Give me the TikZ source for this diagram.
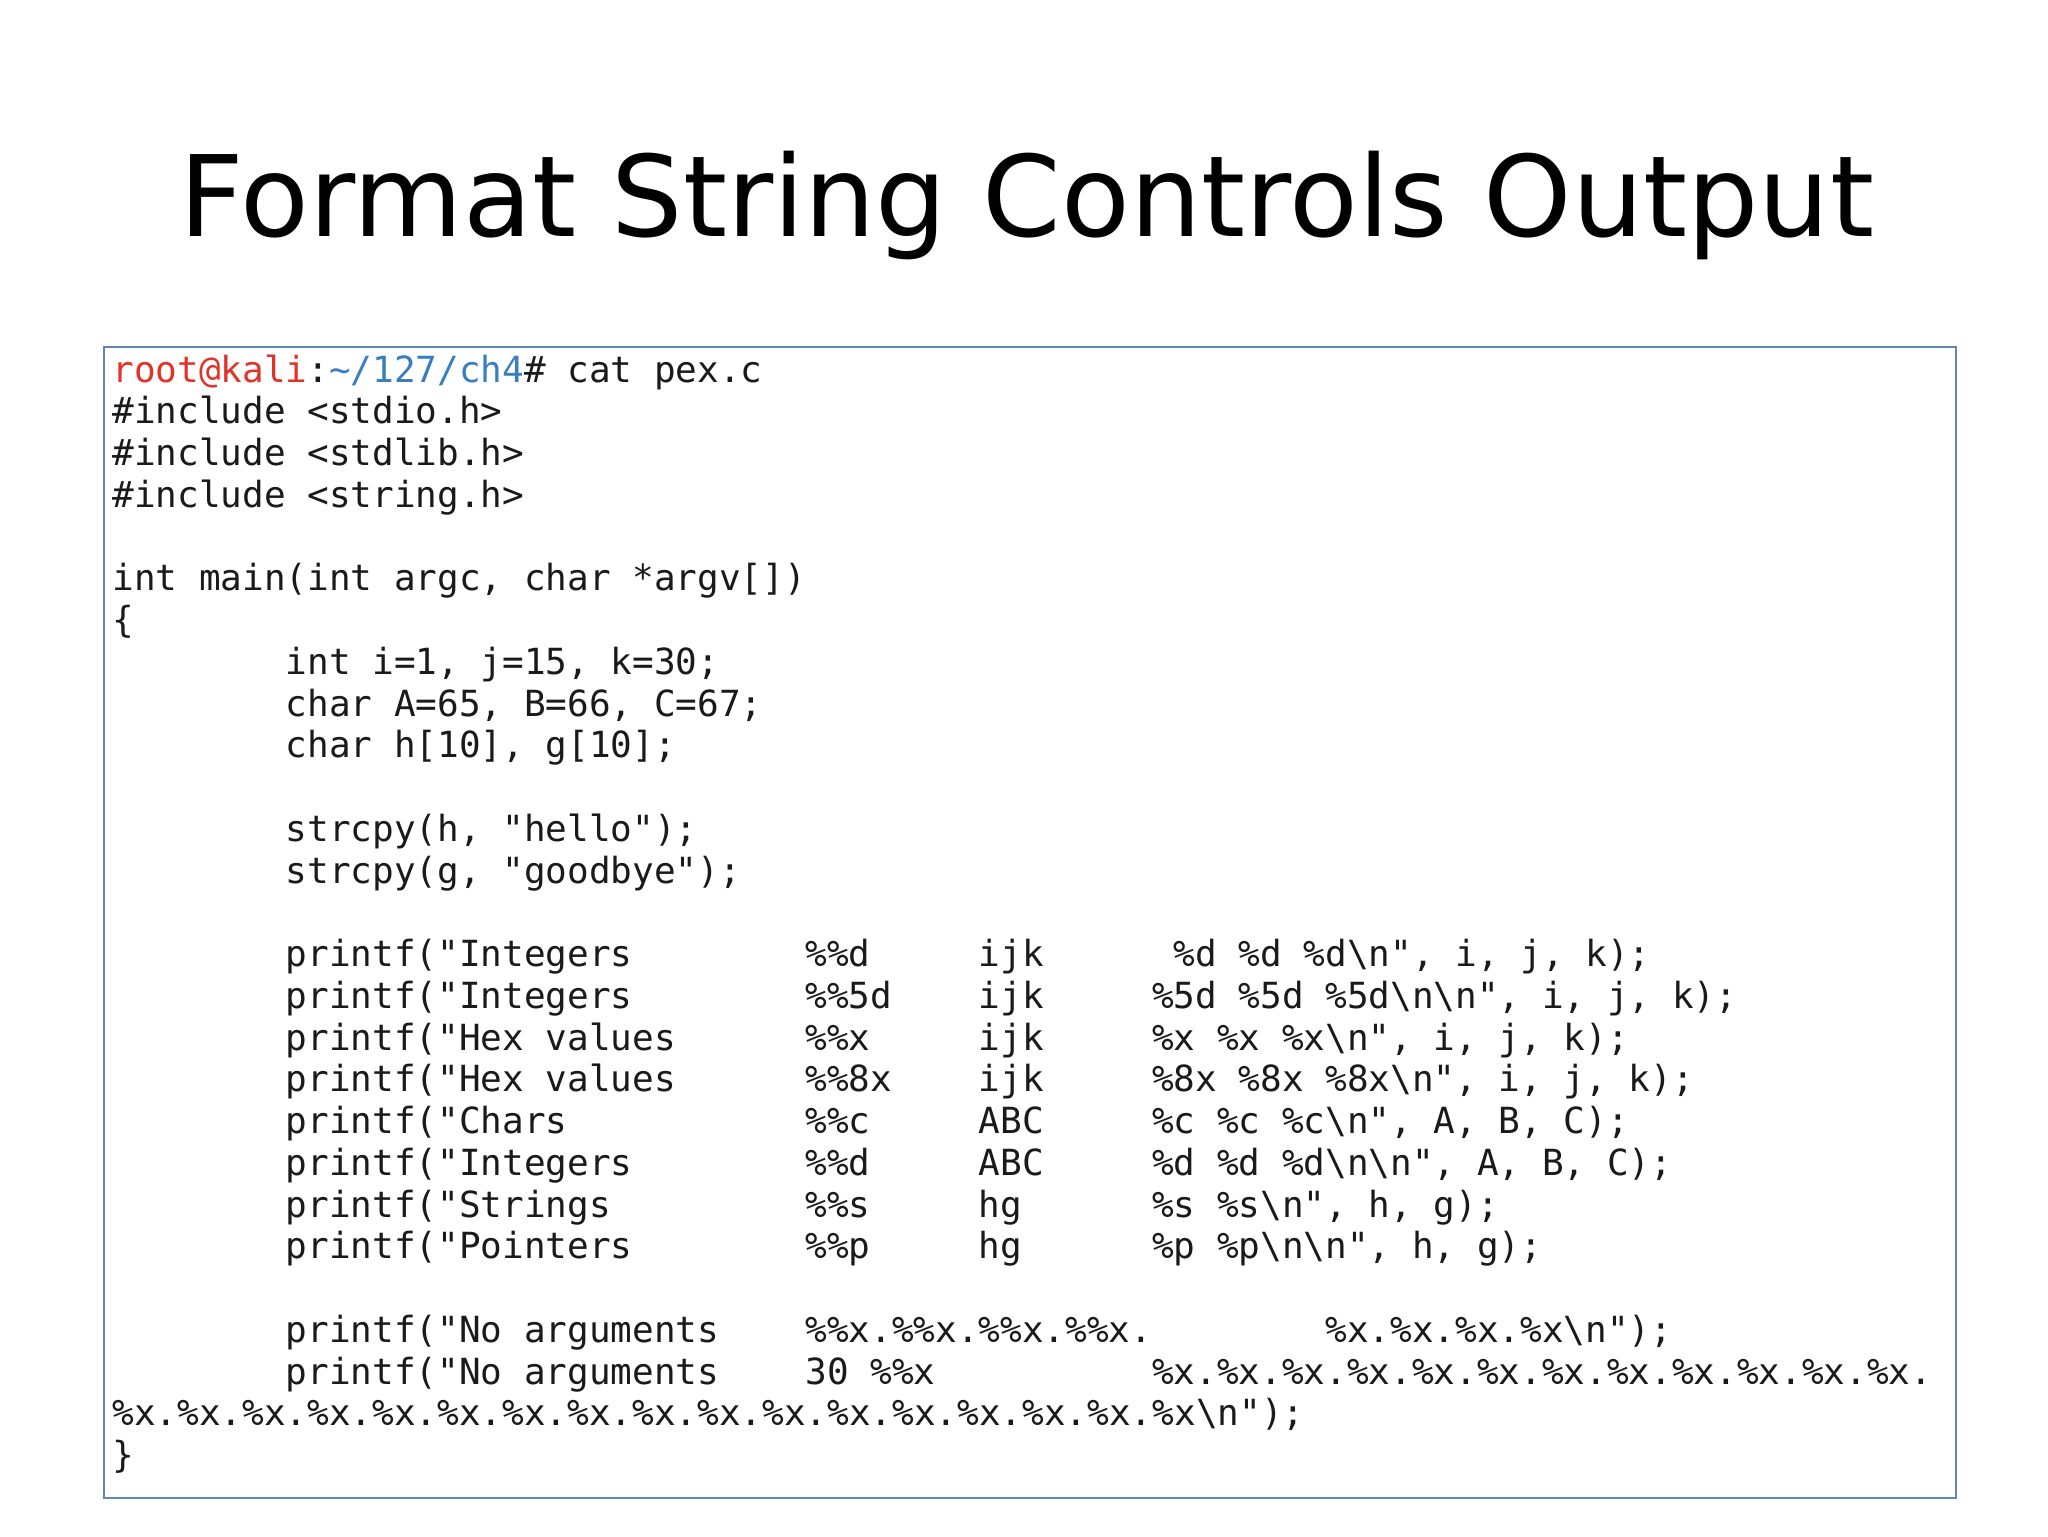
\documentclass[tikz,border=0pt]{standalone}
\usepackage{fontspec}
\newfontfamily\titlefont{DejaVu Sans}
\newfontfamily\codefont{DejaVu Sans Mono}
\definecolor{rootred}{HTML}{E0342A}
\definecolor{pathblue}{HTML}{3A7DC0}
\definecolor{boxblue}{HTML}{5E88B6}
\definecolor{codegray}{HTML}{1A1A1A}
\newcommand\bs{\textbackslash{}}
\newcommand\codeln[4]{\node[code] (#1) at ({112+#3*21.66},{382+#2*41.75}) {#4};}
\begin{document}
\begin{tikzpicture}[x=0.5pt,y=-0.5pt,
  code/.style={anchor=base west,inner sep=0pt,font=\codefont\fontsize{18pt}{21pt}\selectfont,text=codegray}]
\useasboundingbox[fill=white] (0,0) rectangle (2048,1536);
\node[anchor=base,inner sep=0pt] (title) at (1027,236)
  {\resizebox{847pt}{!}{\titlefont\fontsize{63pt}{70pt}\selectfont Format String Controls Output}};
\draw[boxblue,line width=1.2pt,fill=white] (104,347) rectangle (1956,1498);
\node[inner sep=0pt] (box) at (1030,922) {};
\codeln{l0}{0}{0}{{\color{rootred}root@kali}:{\color{pathblue}\textasciitilde/127/ch4}\# cat pex.c}
\codeln{l1}{1}{0}{\#include <stdio.h>}
\codeln{l2}{2}{0}{\#include <stdlib.h>}
\codeln{l3}{3}{0}{\#include <string.h>}
\codeln{l5}{5}{0}{int main(int argc, char *argv[])}
\codeln{l6}{6}{0}{\{}
\codeln{l7}{7}{8}{int i=1, j=15, k=30;}
\codeln{l8}{8}{8}{char A=65, B=66, C=67;}
\codeln{l9}{9}{8}{char h[10], g[10];}
\codeln{l11}{11}{8}{strcpy(h, "hello");}
\codeln{l12}{12}{8}{strcpy(g, "goodbye");}
%
\codeln{p1a}{14}{8}{printf("Integers}
\codeln{p1b}{14}{32}{\%\%d}
\codeln{p1c}{14}{40}{ijk}
\codeln{p1d}{14}{49}{\%d \%d \%d\bs n", i, j, k);}
\codeln{p2a}{15}{8}{printf("Integers}
\codeln{p2b}{15}{32}{\%\%5d}
\codeln{p2c}{15}{40}{ijk}
\codeln{p2d}{15}{48}{\%5d \%5d \%5d\bs n\bs n", i, j, k);}
\codeln{p3a}{16}{8}{printf("Hex values}
\codeln{p3b}{16}{32}{\%\%x}
\codeln{p3c}{16}{40}{ijk}
\codeln{p3d}{16}{48}{\%x \%x \%x\bs n", i, j, k);}
\codeln{p4a}{17}{8}{printf("Hex values}
\codeln{p4b}{17}{32}{\%\%8x}
\codeln{p4c}{17}{40}{ijk}
\codeln{p4d}{17}{48}{\%8x \%8x \%8x\bs n", i, j, k);}
\codeln{p5a}{18}{8}{printf("Chars}
\codeln{p5b}{18}{32}{\%\%c}
\codeln{p5c}{18}{40}{ABC}
\codeln{p5d}{18}{48}{\%c \%c \%c\bs n", A, B, C);}
\codeln{p6a}{19}{8}{printf("Integers}
\codeln{p6b}{19}{32}{\%\%d}
\codeln{p6c}{19}{40}{ABC}
\codeln{p6d}{19}{48}{\%d \%d \%d\bs n\bs n", A, B, C);}
\codeln{p7a}{20}{8}{printf("Strings}
\codeln{p7b}{20}{32}{\%\%s}
\codeln{p7c}{20}{40}{hg}
\codeln{p7d}{20}{48}{\%s \%s\bs n", h, g);}
\codeln{p8a}{21}{8}{printf("Pointers}
\codeln{p8b}{21}{32}{\%\%p}
\codeln{p8c}{21}{40}{hg}
\codeln{p8d}{21}{48}{\%p \%p\bs n\bs n", h, g);}
%
\codeln{n1a}{23}{8}{printf("No arguments}
\codeln{n1b}{23}{32}{\%\%x.\%\%x.\%\%x.\%\%x.}
\codeln{n1c}{23}{56}{\%x.\%x.\%x.\%x\bs n");}
\codeln{n2a}{24}{8}{printf("No arguments}
\codeln{n2b}{24}{32}{30 \%\%x}
\codeln{n2c}{24}{48}{\%x.\%x.\%x.\%x.\%x.\%x.\%x.\%x.\%x.\%x.\%x.\%x.}
\codeln{n3}{25}{0}{\%x.\%x.\%x.\%x.\%x.\%x.\%x.\%x.\%x.\%x.\%x.\%x.\%x.\%x.\%x.\%x.\%x\bs n");}
\codeln{l26}{26}{0}{\}}
\end{tikzpicture}
\end{document}
